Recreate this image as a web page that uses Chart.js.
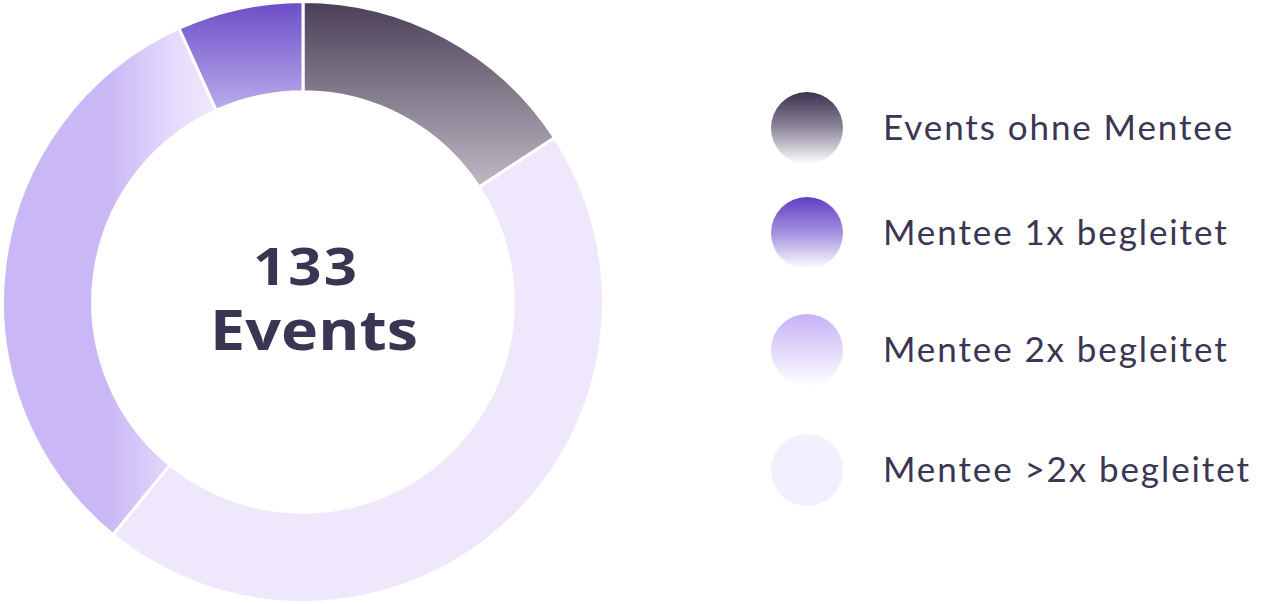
<!DOCTYPE html>
<html>
<head>
<meta charset="utf-8">
<script src="https://cdn.jsdelivr.net/npm/chart.js@4/dist/chart.umd.min.js"></script>
<style>
  html,body{margin:0;padding:0;background:#fff;width:1283px;height:604px;overflow:hidden;}
  #wrap{position:absolute;left:0;top:0;width:606px;height:604px;}
  .lg{position:absolute;left:771px;width:72px;height:72px;border-radius:50%;}
  .lt{position:absolute;left:883px;font-family:Lato,"Open Sans",sans-serif;font-size:35px;color:#3b3653;line-height:40px;letter-spacing:1.9px;white-space:nowrap;}
</style>
</head>
<body>
<div id="wrap"><canvas id="c"></canvas></div>
<div id="legend"></div>
<script>
const categories = ["Events ohne Mentee", "Mentee >2x begleitet", "Mentee 2x begleitet", "Mentee 1x begleitet"];
const values = [21, 60, 43, 9];
const totalLabel = "133";
const totalCaption = "Events";
const legendOrder = ["Events ohne Mentee", "Mentee 1x begleitet", "Mentee 2x begleitet", "Mentee >2x begleitet"];

const legendSwatch = {
  "Events ohne Mentee": "linear-gradient(180deg,#3a3250 0%,#8f889c 50%,#ffffff 100%)",
  "Mentee 1x begleitet": "linear-gradient(180deg,#5f3fc3 0%,#a392e0 50%,#ffffff 100%)",
  "Mentee 2x begleitet": "linear-gradient(180deg,#c5b1f6 0%,#e2d8fb 50%,#ffffff 100%)",
  "Mentee >2x begleitet": "#f3effe"
};
const legendY = [128, 233, 350, 470];

function arcFill(ctx) {
  const chart = ctx.chart;
  const a = chart.chartArea;
  if (!a) return '#ccc';
  const c = chart.ctx;
  const top = a.top, h = a.bottom - a.top, left = a.left, w = a.right - a.left;
  const i = ctx.dataIndex;
  let g;
  if (i === 0) {
    g = c.createLinearGradient(0, top + 0.005*h, 0, top + 0.32*h);
    g.addColorStop(0, '#4b4058');
    g.addColorStop(1, '#c3bdc8');
    return g;
  }
  if (i === 1) return '#efe8fd';
  if (i === 2) {
    g = c.createLinearGradient(left, 0, left + 0.36*w, 0);
    g.addColorStop(0, '#cab8f6');
    g.addColorStop(0.5, '#cab8f6');
    g.addColorStop(0.82, '#e6ddfc');
    g.addColorStop(1, '#f0eafe');
    return g;
  }
  g = c.createLinearGradient(0, top, 0, top + 0.18*h);
  g.addColorStop(0, '#6a4cc6');
  g.addColorStop(1, '#b9abea');
  return g;
}

function fitText(c, text, cx, baseline, targetW) {
  c.save();
  c.letterSpacing = '0px';
  const w = c.measureText(text).width;
  const sx = Math.min(1.12, targetW / w);
  const ls = Math.max(0, (targetW / sx - w) / Math.max(1, text.length - 1));
  c.letterSpacing = ls + 'px';
  c.textAlign = 'left';
  c.translate(cx - targetW / 2, baseline);
  c.scale(sx, 1);
  c.fillText(text, 0, 0);
  c.restore();
}

const centerText = {
  id: 'centerText',
  afterDraw(chart) {
    const arc = chart.getDatasetMeta(0).data[0];
    const cx = arc.x, cy = arc.y;
    const c = chart.ctx;
    c.save();
    c.fillStyle = '#3a3552';
    c.textBaseline = 'alphabetic';
    c.font = 'bold 52px "Open Sans", Lato, sans-serif';
    fitText(c, totalLabel, cx + 2, cy - 17, 104);
    c.font = 'bold 56px "Open Sans", Lato, sans-serif';
    fitText(c, totalCaption, cx + 11, cy + 48, 208);
    c.restore();
  }
};

new Chart(document.getElementById('c'), {
  type: 'doughnut',
  data: {
    labels: categories,
    datasets: [{
      data: values,
      backgroundColor: arcFill,
      borderColor: '#ffffff',
      borderWidth: 3,
      hoverOffset: 0
    }]
  },
  options: {
    responsive: true,
    maintainAspectRatio: false,
    animation: false,
    cutout: '70%',
    layout: { padding: 0 },
    plugins: { legend: { display: false }, tooltip: { enabled: false } }
  },
  plugins: [centerText]
});

const lg = document.getElementById('legend');
legendOrder.forEach((name, k) => {
  const s = document.createElement('div');
  s.className = 'lg';
  s.style.top = (legendY[k] - 36) + 'px';
  s.style.background = legendSwatch[name];
  lg.appendChild(s);
  const t = document.createElement('div');
  t.className = 'lt';
  t.style.top = (legendY[k] - 22) + 'px';
  t.textContent = name;
  lg.appendChild(t);
});
</script>
</body>
</html>
